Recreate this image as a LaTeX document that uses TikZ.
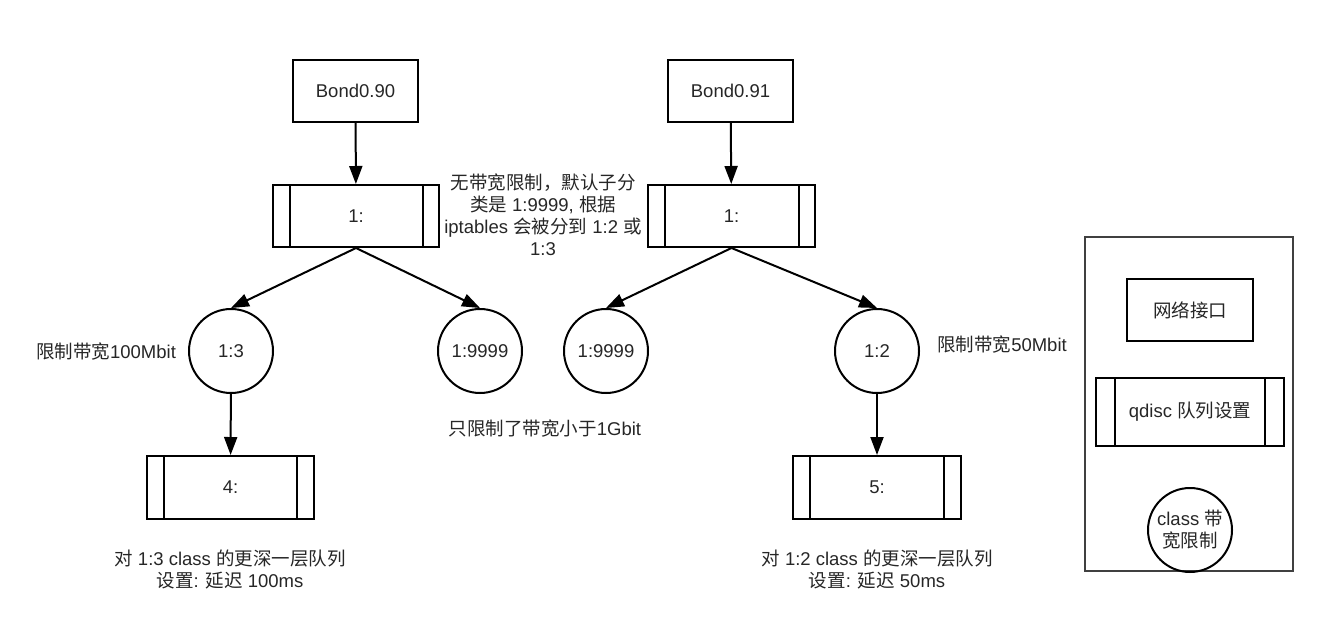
\documentclass[tikz,border=0pt]{standalone}
\usepackage{fontspec}
\setmainfont{Liberation Sans}
\newfontfamily\cjk{Noto Sans CJK SC}
\newcommand{\zh}[1]{{\cjk #1}}
\usetikzlibrary{arrows.meta}
\begin{document}
\begin{tikzpicture}[x=1pt,y=-1pt,
  font=\fontsize{18.5}{22}\selectfont, text=black!85,
  box/.style={draw=black,line width=2pt,minimum width=125pt,minimum height=62pt,inner sep=0pt},
  qd/.style={draw=black,line width=2pt,minimum height=62pt,inner sep=0pt,
    path picture={
      \draw[line width=2pt] ([xshift=#1]path picture bounding box.north west) -- ([xshift=#1]path picture bounding box.south west);
      \draw[line width=2pt] ([xshift=-#1]path picture bounding box.north east) -- ([xshift=-#1]path picture bounding box.south east);
    }},
  circ/.style={draw=black,circle,line width=2pt,minimum size=84pt,inner sep=0pt},
  arr/.style={draw=black,line width=2pt,-{Triangle[length=18pt,width=13pt]}},
  lbl/.style={inner sep=0pt,align=center}]
\useasboundingbox (0,0) rectangle (1340,640);

% left tree
\node[box] (b90) at (355.5,91) {Bond0.90};
\node[qd=16.5pt,minimum width=166pt] (q1L) at (356,216) {1:};
\node[circ] (c13) at (231,351) {1:3};
\node[circ] (c9L) at (480,351) {1:9999};
\node[qd=17pt,minimum width=167pt,minimum height=63pt] (q4) at (230.5,487.5) {4:};

% right tree
\node[box] (b91) at (730.5,91) {Bond0.91};
\node[qd=16.5pt,minimum width=167pt] (q1R) at (731.5,216) {1:};
\node[circ] (c9R) at (606,351) {1:9999};
\node[circ] (c12) at (877,351) {1:2};
\node[qd=17pt,minimum width=168pt,minimum height=63pt] (q5) at (877,487.5) {5:};

% connectors
\draw[arr] (b90) -- (q1L);
\draw[arr] (q1L.south) -- (c13.north);
\draw[arr] (q1L.south) -- (c9L.north);
\draw[arr] (c13) -- (q4);
\draw[arr] (b91) -- (q1R);
\draw[arr] (q1R.south) -- (c9R.north);
\draw[arr] (q1R.south) -- (c12.north);
\draw[arr] (c12) -- (q5);

% labels
\node[lbl] (note) at (543,215) {\zh{无带宽限制，默认子分}\\\zh{类是} 1:9999, \zh{根据}\\iptables \zh{会被分到} 1:2 \zh{或}\\1:3};
\node[lbl] (n100) at (106,352) {\zh{限制带宽}100Mbit};
\node[lbl] (n50) at (1002,345) {\zh{限制带宽}50Mbit};
\node[lbl] (n1g) at (545,429) {\zh{只限制了带宽小于}1Gbit};
\node[lbl] (t4) at (230,569) {\zh{对} 1:3 class \zh{的更深一层队列}\\\zh{设置}: \zh{延迟} 100ms};
\node[lbl] (t5) at (877,569) {\zh{对} 1:2 class \zh{的更深一层队列}\\\zh{设置}: \zh{延迟} 50ms};

% legend
\draw[line width=1.2pt,black!75] (1085,237) rectangle (1293,571);
\node[box,minimum width=126pt] (lnet) at (1190,310) {\zh{网络接口}};
\node[qd=19pt,minimum width=188pt,minimum height=68pt] (lq) at (1190,412) {qdisc \zh{队列设置}};
\node[circ,align=center] (lc) at (1190,530) {class \zh{带}\\\zh{宽限制}};
\end{tikzpicture}
\end{document}
